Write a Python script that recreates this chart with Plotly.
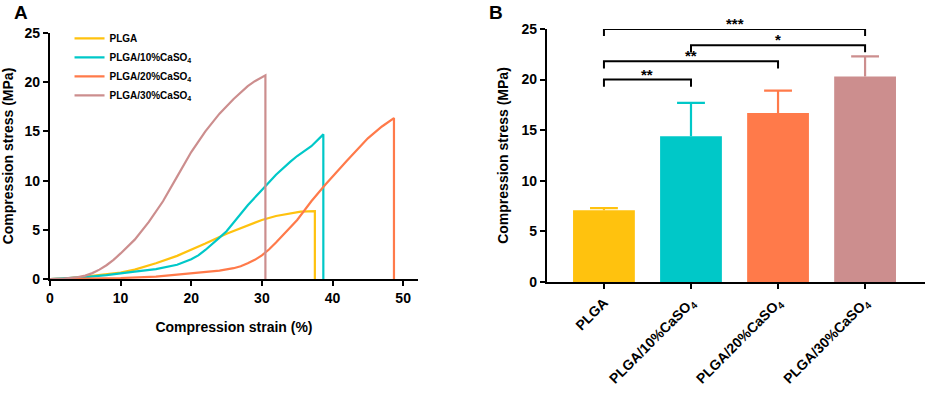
import plotly.graph_objects as go

# ---------------- Panel A data (stress-strain curves) ----------------
plga_x = [0, 2, 5, 8, 10, 12, 15, 18, 20, 22, 25, 28, 30, 32, 34, 35.5, 37.5, 37.5]
plga_y = [0, 0.05, 0.25, 0.45, 0.65, 0.95, 1.6, 2.35, 2.95, 3.6, 4.6, 5.45, 6.0, 6.4, 6.7, 6.85, 6.9, 0]

c10_x = [0, 2, 5, 8, 10, 12, 15, 18, 20, 21, 22, 23, 24, 25, 26, 27, 28, 30, 32, 34, 35, 36, 37, 38.7, 38.7]
c10_y = [0, 0.05, 0.2, 0.4, 0.6, 0.75, 1.0, 1.45, 2.0, 2.4, 2.95, 3.55, 4.2, 4.85, 5.7, 6.6, 7.5, 9.05, 10.6, 11.9, 12.5, 13.0, 13.5, 14.7, 0]

c20_x = [0, 5, 10, 15, 20, 24, 26, 27, 28, 29, 30, 31, 32, 33, 35, 37, 39, 42, 45, 47, 48.7, 48.7]
c20_y = [0, 0.05, 0.1, 0.25, 0.55, 0.85, 1.1, 1.3, 1.6, 1.95, 2.4, 3.0, 3.7, 4.5, 6.0, 7.9, 9.6, 12.0, 14.3, 15.5, 16.35, 0]

c30_x = [0, 2, 4, 5, 6, 7, 8, 9, 10, 12, 14, 16, 18, 20, 22, 24, 26, 28, 29, 30, 30.5, 30.5]
c30_y = [0, 0.05, 0.2, 0.35, 0.6, 0.95, 1.4, 1.95, 2.6, 4.0, 5.8, 7.9, 10.4, 12.9, 15.0, 16.8, 18.3, 19.6, 20.1, 20.5, 20.7, 0]

curve_names = ["PLGA", "PLGA/10%CaSO<sub>4</sub>", "PLGA/20%CaSO<sub>4</sub>", "PLGA/30%CaSO<sub>4</sub>"]
colors = ["#FFC20E", "#00C8C8", "#FF7A4A", "#CC8E8E"]

# ---------------- Panel B data (bar chart) ----------------
bar_labels = ["PLGA", "PLGA/10%CaSO<sub>4</sub>", "PLGA/20%CaSO<sub>4</sub>", "PLGA/30%CaSO<sub>4</sub>"]
bar_means = [7.1, 14.4, 16.7, 20.3]
bar_sd = [0.2, 3.3, 2.2, 2.0]

# significance comparisons: (left index, right index, bracket level, label)
sig_left = [0, 1, 0, 0]
sig_right = [3, 3, 2, 1]
sig_level = [25.0, 23.4, 21.8, 20.0]
sig_text = ["***", "*", "**", "**"]

FONT = "Liberation Sans, Arial, sans-serif"
CAP = 0.16  # half-width of error-bar caps (in category units)

fig = go.Figure()

curves = [(plga_x, plga_y), (c10_x, c10_y), (c20_x, c20_y), (c30_x, c30_y)]
for (xs, ys), name, col in zip(curves, curve_names, colors):
    fig.add_trace(go.Scatter(x=xs, y=ys, mode="lines", name=name,
                             line=dict(color=col, width=2.2),
                             xaxis="x", yaxis="y"))

idx = list(range(len(bar_labels)))
fig.add_trace(go.Bar(x=idx, y=bar_means, marker=dict(color=colors, line=dict(width=0)),
                     width=0.71, showlegend=False, xaxis="x2", yaxis="y2"))

# upper-only error bars (stem + cap), drawn in each bar's colour
for i, m, s, col in zip(idx, bar_means, bar_sd, colors):
    fig.add_trace(go.Scatter(x=[i, i, None, i - CAP, i + CAP],
                             y=[m, m + s, None, m + s, m + s],
                             mode="lines", line=dict(color=col, width=2.2),
                             showlegend=False, hoverinfo="skip", xaxis="x2", yaxis="y2"))

axis_common = dict(showline=True, linecolor="black", linewidth=2, ticks="outside",
                   ticklen=5, tickwidth=2, tickcolor="black", showgrid=False, zeroline=False,
                   automargin=False,
                   tickfont=dict(size=14, family=FONT, color="black", weight="bold"))

fig.update_layout(
    template="none",
    width=927, height=397,
    margin=dict(l=0, r=0, t=0, b=0),
    paper_bgcolor="white", plot_bgcolor="white",
    font=dict(family=FONT, color="black", weight="bold"),
    xaxis=dict(domain=[0.0539, 0.4509], range=[0, 52.1], tickvals=[0, 10, 20, 30, 40, 50],
               anchor="y", title=dict(text="Compression strain (%)",
                                      font=dict(size=14, family=FONT, weight="bold")),
               **axis_common),
    yaxis=dict(domain=[0.2972, 0.9169], range=[0, 25], tickvals=[0, 5, 10, 15, 20, 25],
               anchor="x", title=dict(text="Compression stress (MPa)",
                                      font=dict(size=14, family=FONT, weight="bold")),
               **axis_common),
    xaxis2=dict(domain=[0.590, 0.998], range=[-0.655, 3.69], tickvals=idx, ticktext=bar_labels,
                tickangle=-45, anchor="y2", **axis_common),
    yaxis2=dict(domain=[0.2897, 0.927], range=[0, 25], tickvals=[0, 5, 10, 15, 20, 25],
                anchor="x2", title=dict(text="Compression stress (MPa)",
                                        font=dict(size=14, family=FONT, weight="bold")),
                **axis_common),
    legend=dict(x=0.075, y=0.94, xanchor="left", yanchor="top", bgcolor="rgba(0,0,0,0)",
                font=dict(size=10, family=FONT, weight="bold"), itemwidth=30,
                tracegroupgap=0),
    showlegend=True,
)

# panel letters
fig.add_annotation(text="A", x=0.013, y=1.0, xref="paper", yref="paper", xanchor="left",
                   yanchor="top", showarrow=False, font=dict(size=19, family=FONT, weight="bold"))
fig.add_annotation(text="B", x=0.525, y=1.0, xref="paper", yref="paper", xanchor="left",
                   yanchor="top", showarrow=False, font=dict(size=19, family=FONT, weight="bold"))

# significance brackets
drop = 0.7
for li, ri, lev, txt in zip(sig_left, sig_right, sig_level, sig_text):
    xl, xr = li, ri
    fig.add_shape(type="path",
                  path=f"M {xl},{lev-drop} L {xl},{lev} L {xr},{lev} L {xr},{lev-drop}",
                  xref="x2", yref="y2", line=dict(color="black", width=2))
    fig.add_annotation(text=txt, x=(xl + xr) / 2, y=lev, xref="x2", yref="y2",
                       yanchor="bottom", showarrow=False, yshift=-5,
                       font=dict(size=15, family=FONT, weight="bold"))

fig.write_html("out.html", config={"displayModeBar": False},
               post_script="document.body.style.margin='0';document.body.style.overflow='hidden';")
